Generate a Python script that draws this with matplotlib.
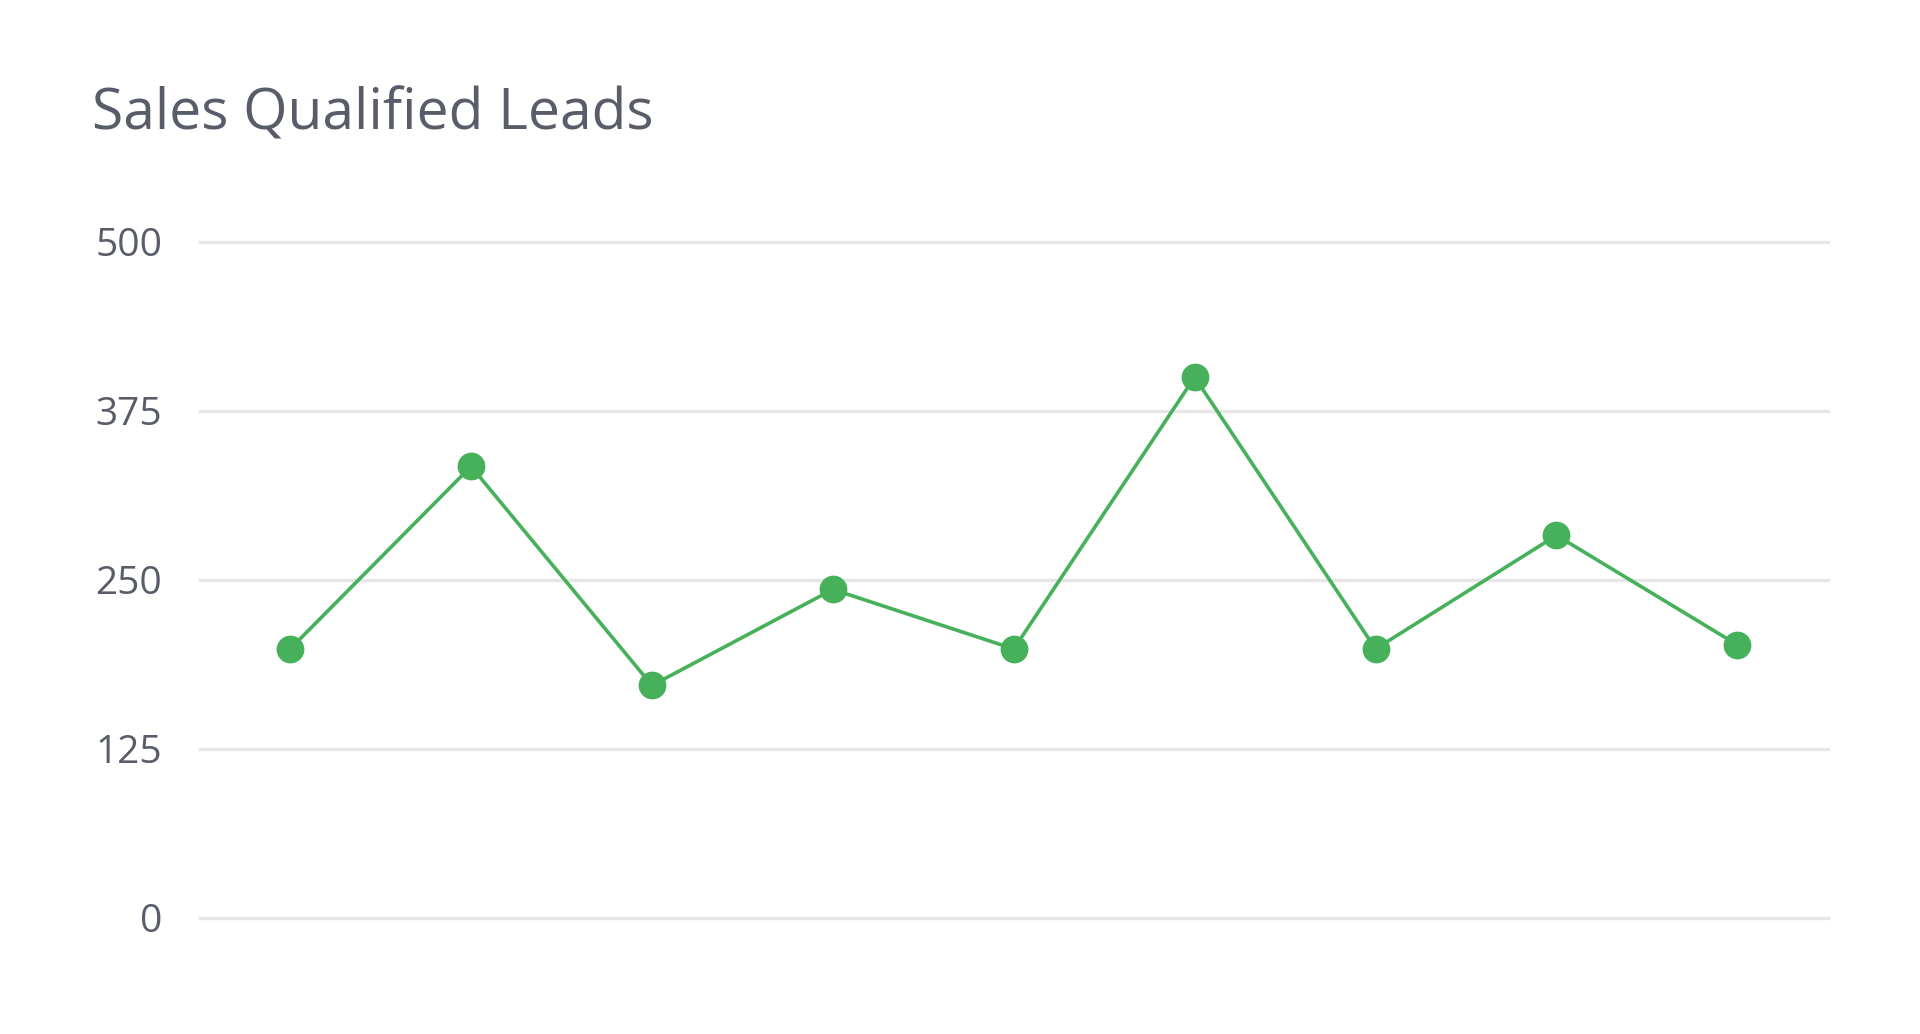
import matplotlib.pyplot as plt

# data
periods = list(range(9))
leads = [199, 334, 172, 243, 199, 400, 199, 283, 202]
y_ticks = [0, 125, 250, 375, 500]

title = "Sales Qualified Leads"
line_color = "#46b15a"
grid_color = "#e6e6e8"
text_color = "#595d69"

plt.rcParams['font.family'] = ['Open Sans', 'DejaVu Sans']

fig = plt.figure(figsize=(19.2, 10.34), dpi=100)
ax = fig.add_axes([0.104, 0.1122, 0.848, 0.6538])

for t in y_ticks:
    ax.axhline(t, color=grid_color, linewidth=2.4, zorder=1, clip_on=False)

ax.plot(periods, leads, color=line_color, linewidth=2.6, marker='o',
        markersize=20, markeredgewidth=0, zorder=3, clip_on=False)

ax.set_xlim(-0.5, len(periods) - 0.5)
ax.set_ylim(0, 500)
ax.set_yticks(y_ticks)
ax.set_yticklabels([str(t) for t in y_ticks])
ax.set_xticks([])
ax.tick_params(axis='y', length=0, pad=27, labelsize=28, labelcolor=text_color)
for s in ax.spines.values():
    s.set_visible(False)

fig.text(0.048, 0.8752, title, fontsize=41, color=text_color,
         ha='left', va='baseline')

fig.savefig("out.png", dpi=100, facecolor='white')
